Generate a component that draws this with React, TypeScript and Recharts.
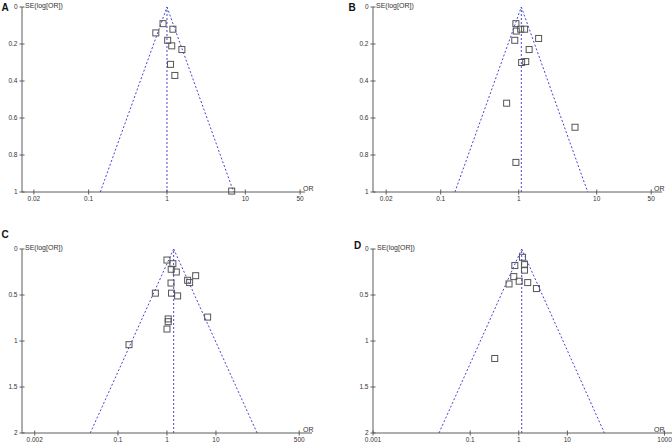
import { ReferenceLine, Scatter, ScatterChart, XAxis, YAxis } from "recharts";

const AXIS = "#5c5c5c";
const FUNNEL = "#4646d6";
const FONT = "Arial, 'Liberation Sans', sans-serif";

// A
const orA = [0.89, 0.72, 1.19, 1.02, 1.15, 1.55, 1.11, 1.26, 6.7];
const seA = [0.09, 0.14, 0.12, 0.18, 0.21, 0.23, 0.31, 0.37, 0.995];
// B
const orB = [0.92, 0.93, 1.06, 1.19, 1.8, 0.89, 1.36, 1.09, 1.23, 0.7, 5.27, 0.92];
const seB = [0.09, 0.13, 0.12, 0.12, 0.17, 0.18, 0.23, 0.3, 0.295, 0.52, 0.65, 0.84];
// C
const orC = [1.0, 1.32, 1.22, 1.55, 3.85, 2.64, 2.9, 1.21, 0.58, 1.24, 1.65, 6.76, 1.06, 1.06, 1.0, 0.168];
const seC = [0.12, 0.16, 0.22, 0.25, 0.29, 0.34, 0.365, 0.37, 0.48, 0.48, 0.51, 0.74, 0.76, 0.79, 0.87, 1.04];
// D
const orD = [1.19, 1.31, 0.83, 1.31, 0.79, 1.02, 0.63, 1.53, 2.31, 0.32];
const seD = [0.09, 0.17, 0.18, 0.23, 0.3, 0.35, 0.38, 0.365, 0.43, 1.19];

const xTicksAB = [0.02, 0.1, 1, 10, 50];
const xTicksC = [0.002, 0.1, 1, 10, 500];
const xTicksD = [0.001, 0.1, 1, 10, 1000];
const yTicksAB = [0, 0.2, 0.4, 0.6, 0.8, 1];
const yTicksCD = [0, 0.5, 1, 1.5, 2];

function XTick({ x, y, payload }: any) {
  return (
    <g>
      <line x1={x} x2={x} y1={y - 2.5} y2={y + 2.5} stroke={AXIS} />
      <text x={x} y={y + 9} textAnchor="middle" fontSize={6.5} fontFamily={FONT} fill="#333">
        {payload.value}
      </text>
    </g>
  );
}

function YTick({ x, y, payload }: any) {
  return (
    <g>
      <line x1={x - 2.5} x2={x + 2.5} y1={y} y2={y} stroke={AXIS} />
      <text x={x - 4.5} y={y + 2.4} textAnchor="end" fontSize={6.5} fontFamily={FONT} fill="#333">
        {payload.value}
      </text>
    </g>
  );
}

function Square(props: any) {
  const { cx, cy } = props;
  return <rect x={cx - 3} y={cy - 3} width={6} height={6} fill="none" stroke="#555" strokeWidth={1} />;
}

type PanelProps = {
  or: number[];
  se: number[];
  center: number;
  seMax: number;
  xDomain: [number, number];
  xTicks: number[];
  yTicks: number[];
  left: number;
  top: number;
  margin: { top: number; right: number; bottom: number; left: number };
  xHeight: number;
};

function Panel(p: PanelProps) {
  const data = p.or.map((v, i) => ({ or: v, se: p.se[i] }));
  const k = 1.96 * p.seMax;
  const lo = p.center * Math.exp(-k);
  const hi = p.center * Math.exp(k);
  return (
    <div style={{ position: "absolute", left: p.left, top: p.top }}>
      <ScatterChart width={336} height={222} margin={p.margin}>
        <XAxis
          type="number"
          dataKey="or"
          scale="log"
          domain={p.xDomain}
          ticks={p.xTicks}
          tick={<XTick />}
          tickLine={false}
          tickSize={0}
          tickMargin={0}
          height={p.xHeight}
          axisLine={{ stroke: AXIS }}
          interval={0}
        />
        <YAxis
          type="number"
          dataKey="se"
          reversed
          domain={[0, p.seMax]}
          ticks={p.yTicks}
          tick={<YTick />}
          tickLine={false}
          tickSize={0}
          tickMargin={0}
          width={22}
          axisLine={{ stroke: AXIS }}
          interval={0}
        />
        <ReferenceLine x={p.center} stroke={FUNNEL} strokeDasharray="2 2" />
        <ReferenceLine
          segment={[{ x: lo, y: p.seMax }, { x: p.center, y: 0 }]}
          stroke={FUNNEL}
          strokeDasharray="2 2"
          ifOverflow="visible"
        />
        <ReferenceLine
          segment={[{ x: p.center, y: 0 }, { x: hi, y: p.seMax }]}
          stroke={FUNNEL}
          strokeDasharray="2 2"
          ifOverflow="visible"
        />
        <Scatter data={data} shape={<Square />} isAnimationActive={false} />
      </ScatterChart>
    </div>
  );
}

const small = { position: "absolute" as const, fontSize: 7, lineHeight: "7px", fontFamily: FONT, color: "#333", whiteSpace: "nowrap" as const };
const letter = { position: "absolute" as const, fontSize: 10, lineHeight: "10px", fontWeight: 700, fontFamily: FONT, color: "#111" };

export default function App() {
  return (
    <div style={{ position: "fixed", left: 0, top: 0, width: 672, height: 444, background: "#fff", overflow: "hidden" }}>
      <Panel or={orA} se={seA} center={1.0} seMax={1} xDomain={[0.0141, 57.8]} xTicks={xTicksAB} yTicks={yTicksAB}
        left={0} top={0} margin={{ top: 7, right: 31, bottom: 0, left: 0 }} xHeight={30} />
      <Panel or={orB} se={seB} center={1.08} seMax={1} xDomain={[0.01355, 68.7]} xTicks={xTicksAB} yTicks={yTicksAB}
        left={336} top={0} margin={{ top: 7, right: 10, bottom: 0, left: 15 }} xHeight={30} />
      <Panel or={orC} se={seC} center={1.37} seMax={2} xDomain={[0.0011, 912]} xTicks={xTicksC} yTicks={yTicksCD}
        left={0} top={222} margin={{ top: 27, right: 24, bottom: 0, left: 0 }} xHeight={11} />
      <Panel or={orD} se={seD} center={1.15} seMax={2} xDomain={[0.001, 1425]} xTicks={xTicksD} yTicks={yTicksCD}
        left={336} top={222} margin={{ top: 27, right: 0, bottom: 0, left: 15 }} xHeight={11} />

      <span style={{ ...letter, left: 1.5, top: 2.5 }}>A</span>
      <span style={{ ...letter, left: 348.5, top: 2.5 }}>B</span>
      <span style={{ ...letter, left: 1.5, top: 229.8 }}>C</span>
      <span style={{ ...letter, left: 354, top: 240.5 }}>D</span>

      <span style={{ ...small, left: 25, top: 2 }}>SE(log[OR])</span>
      <span style={{ ...small, left: 376, top: 2 }}>SE(log[OR])</span>
      <span style={{ ...small, left: 25, top: 243.5 }}>SE(log[OR])</span>
      <span style={{ ...small, left: 377, top: 243.5 }}>SE(log[OR])</span>

      <span style={{ ...small, left: 303, top: 184.8 }}>OR</span>
      <span style={{ ...small, left: 654, top: 184.8 }}>OR</span>
      <span style={{ ...small, left: 303, top: 426 }}>OR</span>
      <span style={{ ...small, left: 654, top: 426 }}>OR</span>
    </div>
  );
}
